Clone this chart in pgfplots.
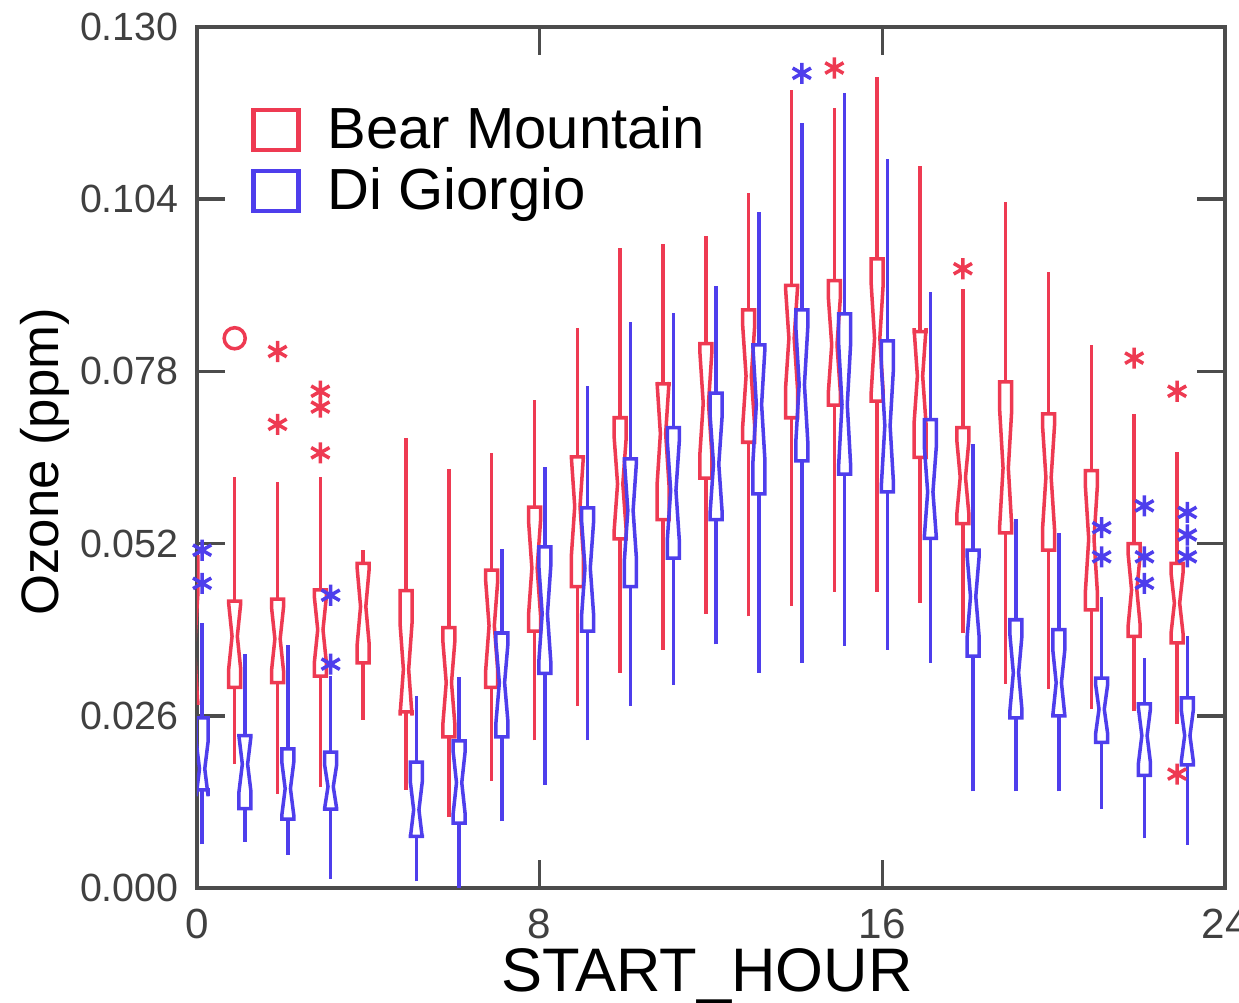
\documentclass[border=0pt]{standalone}
\usepackage{fontspec}
\setmainfont{Liberation Sans}
\usepackage{pgfplots}
\pgfplotsset{compat=1.18}
\usepgfplotslibrary{statistics}
\definecolor{bmred}{RGB}{238,58,82}
\definecolor{dgblue}{RGB}{78,62,236}

% values below are in ppb (0.001 ppm); tick labels are written in ppm
\pgfplotsset{
  notchbox/.style={
    boxplot/draw direction=y,
    boxplot/box extend=0.28,
    boxplot/draw/box/.code={%
      \begingroup
      \pgfkeys{/pgf/fpu=true,/pgf/fpu/output format=fixed}%
      \pgfmathparse{\pgfplotsboxplotvalue{lower quartile}}\xdef\qlo{\pgfmathresult}%
      \pgfmathparse{\pgfplotsboxplotvalue{upper quartile}}\xdef\qhi{\pgfmathresult}%
      \pgfmathparse{\pgfplotsboxplotvalue{median}}\xdef\qmd{\pgfmathresult}%
      \pgfmathparse{\qmd-0.38*(\qhi-\qlo)}\xdef\nlo{\pgfmathresult}%
      \pgfmathparse{\qmd+0.38*(\qhi-\qlo)}\xdef\nhi{\pgfmathresult}%
      \endgroup
      \draw (boxplot box cs:\qlo,0) -- (boxplot box cs:\nlo,0) -- (boxplot box cs:\qmd,0.28)
        -- (boxplot box cs:\nhi,0) -- (boxplot box cs:\qhi,0) -- (boxplot box cs:\qhi,1)
        -- (boxplot box cs:\nhi,1) -- (boxplot box cs:\qmd,0.72) -- (boxplot box cs:\nlo,1)
        -- (boxplot box cs:\qlo,1) -- cycle;
    },
    boxplot/draw/median/.code={},
    boxplot/draw/lower whisker/.code={%
      \draw (boxplot cs:\pgfplotsboxplotvalue{lower whisker}) -- (boxplot cs:\pgfplotsboxplotvalue{lower quartile});
    },
    boxplot/draw/upper whisker/.code={%
      \draw (boxplot cs:\pgfplotsboxplotvalue{upper quartile}) -- (boxplot cs:\pgfplotsboxplotvalue{upper whisker});
    },
  },
  bm/.style={notchbox, color=bmred, line width=1pt, mark=asterisk, mark size=3pt, mark options={solid,line width=1pt}, forget plot},
  dg/.style={notchbox, color=dgblue, line width=1pt, mark=asterisk, mark size=3pt, mark options={solid,line width=1pt}, forget plot},
}

\begin{document}
\begin{tikzpicture}
\begin{axis}[
  at={(1.97cm,1.15cm)}, anchor=south west,
  scale only axis, width=10.28cm, height=8.61cm,
  xmin=0, xmax=24, ymin=0, ymax=130,
  xtick={0,8,16,24}, xticklabels={0,8,16,24},
  ytick={0,26,52,78,104,130},
  yticklabels={0.000,0.026,0.052,0.078,0.104,0.130},
  tick align=inside, tick pos=both,
  major tick length=0.28cm,
  every tick/.style={black!70, line width=1pt},
  axis line style={black!70, line width=1.3pt},
  tick label style={text=black!75},
  yticklabel style={font=\fontsize{11.2}{13}\selectfont, xshift=-0.06cm},
  xticklabel style={font=\fontsize{12}{14}\selectfont, yshift=-0.09cm},
  xlabel={START\_HOUR}, ylabel={Ozone (ppm)},
  xlabel style={font=\fontsize{17.5}{20}\selectfont, at={(axis description cs:0.496,-0.102)}, anchor=center},
  ylabel style={font=\fontsize{15}{17}\selectfont, at={(axis description cs:-0.148,0.495)}, anchor=center},
  legend style={at={(axis description cs:0.042,0.925)}, anchor=north west, draw=none, fill=none,
    font=\fontsize{16.5}{19}\selectfont, row sep=0pt, column sep=0.2cm},
  legend cell align=left,
  legend image code/.code={\draw[#1, line width=1.2pt] (0cm,-0.2cm) rectangle (0.45cm,0.2cm);},
]
\addlegendimage{bmred}
\addlegendentry{Bear Mountain}
\addlegendimage{dgblue}
\addlegendentry{Di Giorgio}

% hour 0
\addplot[bm, boxplot prepared={draw position=-0.12, lower whisker=19, lower quartile=28, median=36, upper quartile=50, upper whisker=59}] table[row sep=\\,y index=0] {v\\67\\};
\addplot[dg, boxplot prepared={draw position=0.12, lower whisker=6.6, lower quartile=14.8, median=18, upper quartile=25.7, upper whisker=40}] table[row sep=\\,y index=0] {v\\51\\46\\};
% hour 1
\addplot[bm, mark=o, boxplot prepared={draw position=0.88, lower whisker=18.7, lower quartile=30.3, median=38, upper quartile=43.3, upper whisker=62}] table[row sep=\\,y index=0] {v\\83\\};
\addplot[dg, boxplot prepared={draw position=1.12, lower whisker=7, lower quartile=12, median=18.7, upper quartile=23, upper whisker=35.3}] coordinates {};
% hour 2
\addplot[bm, boxplot prepared={draw position=1.88, lower whisker=14.2, lower quartile=31, median=37.6, upper quartile=43.6, upper whisker=61.3}] table[row sep=\\,y index=0] {v\\81\\70\\};
\addplot[dg, boxplot prepared={draw position=2.12, lower whisker=5, lower quartile=10.4, median=15, upper quartile=21, upper whisker=36.7}] coordinates {};
% hour 3
\addplot[bm, boxplot prepared={draw position=2.88, lower whisker=15.3, lower quartile=32, median=39, upper quartile=45, upper whisker=62}] table[row sep=\\,y index=0] {v\\75\\72.6\\65.7\\};
\addplot[dg, boxplot prepared={draw position=3.12, lower whisker=1.4, lower quartile=11.9, median=15.3, upper quartile=20.5, upper whisker=32}] table[row sep=\\,y index=0] {v\\44.2\\33.8\\};
% hour 4
\addplot[bm, boxplot prepared={draw position=3.88, lower whisker=25.4, lower quartile=34, median=42.5, upper quartile=49, upper whisker=51}] coordinates {};
% hour 5
\addplot[bm, boxplot prepared={draw position=4.88, lower whisker=14.8, lower quartile=26.6, median=33, upper quartile=44.9, upper whisker=68}] coordinates {};
\addplot[dg, boxplot prepared={draw position=5.12, lower whisker=1, lower quartile=7.8, median=11.8, upper quartile=19, upper whisker=29}] coordinates {};
% hour 6
\addplot[bm, boxplot prepared={draw position=5.88, lower whisker=10.7, lower quartile=22.8, median=31, upper quartile=39.3, upper whisker=63.3}] coordinates {};
\addplot[dg, boxplot prepared={draw position=6.12, lower whisker=0, lower quartile=9.8, median=15.9, upper quartile=22.2, upper whisker=31.9}] coordinates {};
% hour 7
\addplot[bm, boxplot prepared={draw position=6.88, lower whisker=16.2, lower quartile=30.3, median=39.6, upper quartile=48, upper whisker=65.7}] coordinates {};
\addplot[dg, boxplot prepared={draw position=7.12, lower whisker=10.1, lower quartile=22.8, median=31, upper quartile=38.5, upper whisker=51.2}] coordinates {};
% hour 8
\addplot[bm, boxplot prepared={draw position=7.88, lower whisker=22.3, lower quartile=38.8, median=48.3, upper quartile=57.5, upper whisker=73.7}] coordinates {};
\addplot[dg, boxplot prepared={draw position=8.12, lower whisker=15.6, lower quartile=32.4, median=41.4, upper quartile=51.5, upper whisker=63.6}] coordinates {};
% hour 9
\addplot[bm, boxplot prepared={draw position=8.88, lower whisker=27.5, lower quartile=45.5, median=57.6, upper quartile=65.1, upper whisker=84.6}] coordinates {};
\addplot[dg, boxplot prepared={draw position=9.12, lower whisker=22.3, lower quartile=38.8, median=48.3, upper quartile=57.4, upper whisker=75.8}] coordinates {};
% hour 10
\addplot[bm, boxplot prepared={draw position=9.88, lower whisker=32.5, lower quartile=52.7, median=61, upper quartile=71, upper whisker=96.6}] coordinates {};
\addplot[dg, boxplot prepared={draw position=10.12, lower whisker=27.5, lower quartile=45.5, median=57, upper quartile=64.8, upper whisker=85.4}] coordinates {};
% hour 11
\addplot[bm, boxplot prepared={draw position=10.88, lower whisker=36, lower quartile=55.6, median=68.6, upper quartile=76.1, upper whisker=97.2}] coordinates {};
\addplot[dg, boxplot prepared={draw position=11.12, lower whisker=30.7, lower quartile=49.8, median=60, upper quartile=69.5, upper whisker=86.8}] coordinates {};
% hour 12
\addplot[bm, boxplot prepared={draw position=11.88, lower whisker=41.4, lower quartile=61.9, median=73.2, upper quartile=82.2, upper whisker=98.4}] coordinates {};
\addplot[dg, boxplot prepared={draw position=12.12, lower whisker=36.8, lower quartile=55.6, median=64, upper quartile=74.7, upper whisker=90.9}] coordinates {};
% hour 13
\addplot[bm, boxplot prepared={draw position=12.88, lower whisker=41, lower quartile=67.3, median=77.3, upper quartile=87.3, upper whisker=104.9}] coordinates {};
\addplot[dg, boxplot prepared={draw position=13.12, lower whisker=32.5, lower quartile=59.5, median=73, upper quartile=82, upper whisker=102}] coordinates {};
% hour 14
\addplot[bm, boxplot prepared={draw position=13.88, lower whisker=42.6, lower quartile=71, median=83, upper quartile=91, upper whisker=120.5}] coordinates {};
\addplot[dg, boxplot prepared={draw position=14.12, lower whisker=34, lower quartile=64.5, median=76, upper quartile=87.3, upper whisker=115.5}] table[row sep=\\,y index=0] {v\\123\\};
% hour 15
\addplot[bm, boxplot prepared={draw position=14.88, lower whisker=44.7, lower quartile=72.9, median=82, upper quartile=91.7, upper whisker=117.8}] table[row sep=\\,y index=0] {v\\123.8\\};
\addplot[dg, boxplot prepared={draw position=15.12, lower whisker=36.6, lower quartile=62.5, median=73, upper quartile=86.7, upper whisker=120}] coordinates {};
% hour 16
\addplot[bm, boxplot prepared={draw position=15.88, lower whisker=44.7, lower quartile=73.5, median=83, upper quartile=95, upper whisker=122.5}] coordinates {};
\addplot[dg, boxplot prepared={draw position=16.12, lower whisker=36, lower quartile=59.8, median=69.8, upper quartile=82.6, upper whisker=110}] coordinates {};
% hour 17
\addplot[bm, boxplot prepared={draw position=16.88, lower whisker=43, lower quartile=65, median=77.3, upper quartile=84, upper whisker=109}] coordinates {};
\addplot[dg, boxplot prepared={draw position=17.12, lower whisker=34, lower quartile=52.8, median=59.8, upper quartile=70.7, upper whisker=90}] coordinates {};
% hour 18
\addplot[bm, boxplot prepared={draw position=17.88, lower whisker=38.5, lower quartile=55, median=62, upper quartile=69.5, upper whisker=90.5}] table[row sep=\\,y index=0] {v\\93.5\\};
\addplot[dg, boxplot prepared={draw position=18.12, lower whisker=14.6, lower quartile=35, median=44, upper quartile=51, upper whisker=67}] coordinates {};
% hour 19
\addplot[bm, boxplot prepared={draw position=18.88, lower whisker=30.8, lower quartile=53.6, median=63.4, upper quartile=76.4, upper whisker=103.5}] coordinates {};
\addplot[dg, boxplot prepared={draw position=19.12, lower whisker=14.6, lower quartile=25.7, median=32.5, upper quartile=40.5, upper whisker=55.7}] coordinates {};
% hour 20
\addplot[bm, boxplot prepared={draw position=19.88, lower whisker=30, lower quartile=51, median=62, upper quartile=71.6, upper whisker=93}] coordinates {};
\addplot[dg, boxplot prepared={draw position=20.12, lower whisker=14.6, lower quartile=26, median=31, upper quartile=39, upper whisker=53.6}] coordinates {};
% hour 21
\addplot[bm, boxplot prepared={draw position=20.88, lower whisker=27, lower quartile=42, median=52.7, upper quartile=63, upper whisker=82}] coordinates {};
\addplot[dg, boxplot prepared={draw position=21.12, lower whisker=12, lower quartile=22, median=27, upper quartile=31.7, upper whisker=44}] table[row sep=\\,y index=0] {v\\54.4\\50\\};
% hour 22
\addplot[bm, boxplot prepared={draw position=21.88, lower whisker=26.7, lower quartile=38, median=45, upper quartile=52, upper whisker=71.6}] table[row sep=\\,y index=0] {v\\80\\};
\addplot[dg, boxplot prepared={draw position=22.12, lower whisker=7.5, lower quartile=17, median=23, upper quartile=27.8, upper whisker=34.7}] table[row sep=\\,y index=0] {v\\57.7\\50\\46\\};
% hour 23
\addplot[bm, boxplot prepared={draw position=22.88, lower whisker=24.7, lower quartile=37, median=43, upper quartile=49, upper whisker=65.8}] table[row sep=\\,y index=0] {v\\75\\17.2\\};
\addplot[dg, boxplot prepared={draw position=23.12, lower whisker=6.5, lower quartile=18.6, median=23, upper quartile=28.7, upper whisker=38}] table[row sep=\\,y index=0] {v\\56.7\\53.3\\50\\};
\end{axis}
\pgfresetboundingbox
\useasboundingbox (0,0) rectangle (12.39cm,10.03cm);
\end{tikzpicture}
\end{document}
